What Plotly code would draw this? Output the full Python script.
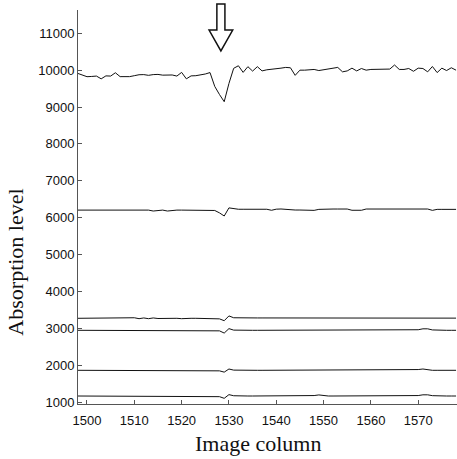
import plotly.graph_objects as go

columns = list(range(1498, 1579))

s_top = [9915, 9860, 9823, 9830, 9840, 9765, 9845, 9840, 9930, 9825,
         9825, 9825, 9850, 9876, 9880, 9860, 9880, 9885, 9865, 9860,
         9870, 9840, 9940, 9765, 9845, 9850, 9870, 9896, 9935, 9560,
         9340, 9145, 9640, 10050, 10120, 9940, 10095, 9975, 10095, 9980,
         10010, 10020, 10035, 10055, 10075, 10065, 9860, 10000, 10000, 10010,
         10020, 9990, 10010, 10030, 10055, 10075, 9955, 9980, 10055, 9980,
         10045, 10000, 10020, 10020, 10010, 10010, 10030, 10140, 10020, 10020,
         10045, 9970, 10055, 10045, 9955, 10100, 9935, 10055, 9990, 10065,
         10000]

s_6k = [6205, 6205, 6205, 6205, 6205, 6205, 6205, 6205, 6205, 6205,
        6205, 6205, 6205, 6205, 6205, 6205, 6180, 6200, 6205, 6180,
        6200, 6205, 6205, 6205, 6205, 6205, 6205, 6205, 6205, 6195,
        6130, 6045, 6265, 6245, 6228, 6228, 6228, 6228, 6228, 6228,
        6228, 6200, 6230, 6235, 6220, 6207, 6207, 6207, 6207, 6207,
        6198, 6225, 6234, 6234, 6234, 6234, 6234, 6234, 6200, 6200,
        6200, 6234, 6234, 6234, 6234, 6234, 6234, 6234, 6234, 6234,
        6234, 6234, 6234, 6234, 6234, 6198, 6225, 6225, 6225, 6225,
        6225]

s_3k3 = [3270, 3270, 3270, 3270, 3270, 3270, 3270, 3270, 3270, 3270,
         3270, 3270, 3285, 3260, 3280, 3260, 3280, 3265, 3270, 3270,
         3270, 3270, 3260, 3275, 3270, 3270, 3270, 3270, 3270, 3270,
         3255, 3205, 3335, 3285, 3280, 3280, 3280, 3280, 3280, 3280,
         3280, 3280, 3280, 3280, 3280, 3280, 3280, 3280, 3280, 3280,
         3280, 3280, 3280, 3280, 3280, 3280, 3280, 3280, 3280, 3280,
         3280, 3280, 3280, 3280, 3280, 3280, 3280, 3280, 3280, 3280,
         3280, 3280, 3280, 3280, 3280, 3280, 3265, 3285, 3265, 3285,
         3275]

s_2k9 = [2945, 2945, 2945, 2945, 2945, 2945, 2945, 2945, 2945, 2945,
         2945, 2945, 2945, 2945, 2945, 2945, 2945, 2945, 2945, 2945,
         2945, 2945, 2945, 2945, 2945, 2945, 2945, 2945, 2945, 2945,
         2930, 2870, 2990, 2950, 2945, 2945, 2945, 2945, 2945, 2945,
         2945, 2945, 2945, 2945, 2945, 2945, 2945, 2945, 2945, 2945,
         2945, 2945, 2945, 2945, 2945, 2945, 2945, 2945, 2945, 2945,
         2945, 2945, 2945, 2945, 2945, 2945, 2945, 2945, 2945, 2945,
         2945, 2945, 2960, 2985, 2985, 2955, 2945, 2945, 2945, 2945,
         2945]

s_1k9 = [1860, 1860, 1860, 1860, 1860, 1860, 1860, 1860, 1860, 1860,
         1860, 1860, 1860, 1860, 1860, 1860, 1860, 1860, 1860, 1860,
         1860, 1860, 1860, 1860, 1860, 1860, 1860, 1860, 1860, 1860,
         1845, 1810, 1895, 1865, 1860, 1860, 1860, 1860, 1860, 1860,
         1860, 1860, 1860, 1860, 1860, 1860, 1860, 1860, 1860, 1860,
         1860, 1860, 1860, 1860, 1860, 1860, 1860, 1860, 1860, 1860,
         1860, 1860, 1860, 1860, 1860, 1860, 1860, 1860, 1860, 1860,
         1860, 1860, 1880, 1895, 1870, 1860, 1860, 1860, 1860, 1860,
         1860]

s_1k2 = [1163, 1163, 1163, 1163, 1163, 1163, 1163, 1163, 1163, 1163,
         1163, 1163, 1163, 1163, 1163, 1163, 1163, 1163, 1163, 1163,
         1163, 1163, 1163, 1163, 1163, 1163, 1163, 1163, 1163, 1163,
         1145, 1100, 1200, 1170, 1163, 1163, 1163, 1163, 1163, 1163,
         1163, 1163, 1163, 1163, 1163, 1163, 1163, 1163, 1163, 1163,
         1175, 1192, 1168, 1163, 1163, 1163, 1163, 1163, 1163, 1163,
         1163, 1163, 1163, 1163, 1163, 1163, 1163, 1163, 1163, 1163,
         1163, 1163, 1175, 1195, 1195, 1172, 1163, 1163, 1163, 1163,
         1163]

series = [s_top, s_6k, s_3k3, s_2k9, s_1k9, s_1k2]

x_ticks = [1500, 1510, 1520, 1530, 1540, 1550, 1560, 1570]
y_ticks = [1000, 2000, 3000, 4000, 5000, 6000, 7000, 8000, 9000, 10000, 11000]
x_title = "Image column"
y_title = "Absorption level"
arrow_column = 1528.3

fig = go.Figure()
for s in series:
    fig.add_trace(go.Scatter(x=columns, y=s, mode="lines",
                             line=dict(color="#111111", width=1),
                             showlegend=False, hoverinfo="skip"))

axis_common = dict(showgrid=False, zeroline=False, showline=True,
                   linecolor="#555555", linewidth=1, ticks="inside",
                   ticklen=4, tickcolor="#555555", tickwidth=1,
                   tickfont=dict(family="Liberation Sans, Arial", size=13, color="#111111"))

fig.update_xaxes(range=[1498.1, 1578.2], tickvals=x_ticks,
                 ticktext=[str(v) for v in x_ticks], ticklabelstandoff=4, **axis_common)
fig.update_yaxes(range=[946, 11632], tickvals=y_ticks,
                 ticktext=[str(v) for v in y_ticks], **axis_common)

# outlined down-arrow marker above the dip
c = arrow_column
fig.add_shape(type="path", xref="x", yref="paper",
              path=(f"M {c-0.85},1.015 L {c+0.85},1.015 L {c+0.85},0.949 "
                    f"L {c+2.5},0.949 L {c},0.896 L {c-2.5},0.949 "
                    f"L {c-0.85},0.949 Z"),
              line=dict(color="#111111", width=1.5), fillcolor="white")

title_font = dict(family="Liberation Serif, Times New Roman", size=22, color="#111111")
fig.add_annotation(text=x_title, xref="paper", yref="paper", x=0.475, y=-0.1,
                   xanchor="center", yanchor="middle", showarrow=False, font=title_font,
                   borderpad=0)
fig.add_annotation(text=y_title, xref="paper", yref="paper", x=-0.165, y=0.36,
                   xanchor="center", yanchor="middle", showarrow=False,
                   textangle=-90, font=title_font)

fig.update_layout(width=457, height=459, plot_bgcolor="white", paper_bgcolor="white",
                  margin=dict(l=78, r=0, t=10, b=55))

fig.write_html("out.html", config={"displayModeBar": False},
               post_script="document.body.style.margin='0';document.body.style.overflow='hidden';")
